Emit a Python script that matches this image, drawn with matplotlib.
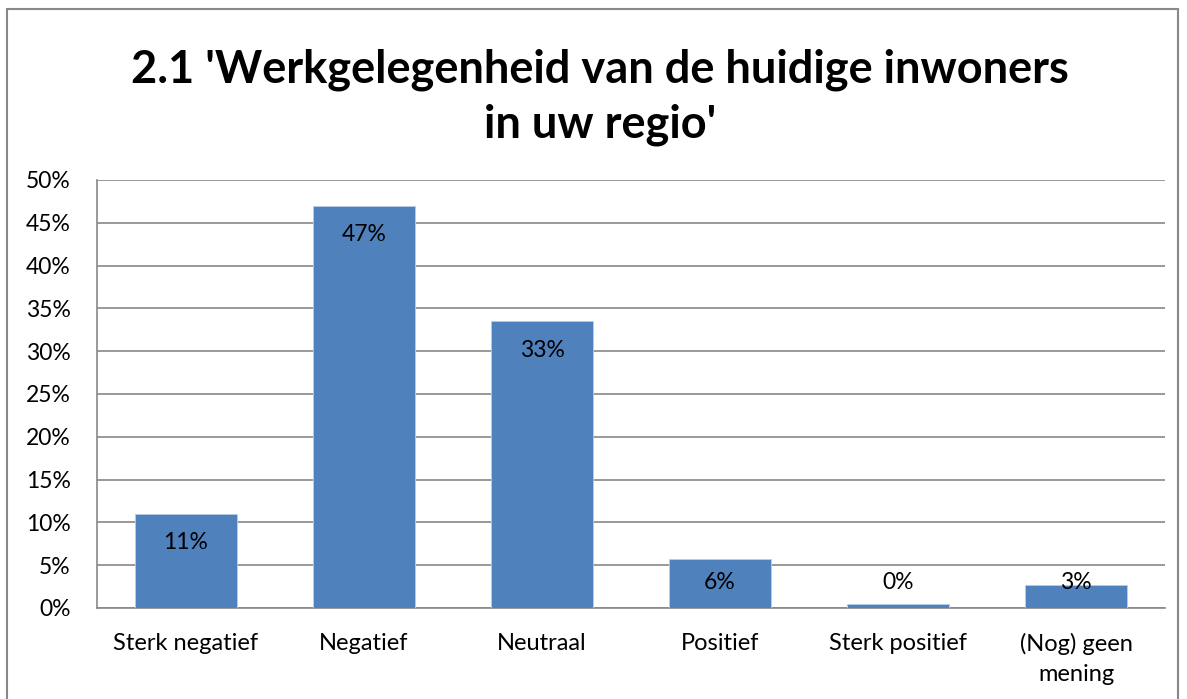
import matplotlib
matplotlib.use("Agg")
import matplotlib.pyplot as plt
from matplotlib.patches import Rectangle

categories = ["Sterk negatief", "Negatief", "Neutraal", "Positief", "Sterk positief", "(Nog) geen\nmening"]
values = [11.0, 47.0, 33.5, 5.7, 0.5, 2.7]
labels = ["11%", "47%", "33%", "6%", "0%", "3%"]
yticks = [0, 5, 10, 15, 20, 25, 30, 35, 40, 45, 50]
title = "2.1 'Werkgelegenheid van de huidige inwoners\nin uw regio'"

W, H = 1187, 699
fig = plt.figure(figsize=(W / 100, H / 100), dpi=100)
font = "Lato"
fs = 16.5

# outer chart border
fig.patches.append(Rectangle((7 / W, -0.05), (1178 - 7) / W, 1.05 - 9 / H,
                             transform=fig.transFigure, fill=False,
                             edgecolor="#888888", linewidth=1.5))

left, right, top, bottom = 97, 1165, 180, 608
ax = fig.add_axes([left / W, 1 - bottom / H, (right - left) / W, (bottom - top) / H])

x = range(len(categories))
ax.bar(x, values, width=0.57, color="#4f81bd", edgecolor="#b9cde5", linewidth=0.6, zorder=3)
ax.set_xlim(-0.5, len(categories) - 0.5)
ax.set_ylim(0, 50)
ax.set_yticks(yticks)
ax.set_yticklabels([f"{t}%" for t in yticks], fontsize=fs, family=font)
ax.set_xticks(list(x))
ax.set_xticklabels(categories, fontsize=17, family=font, linespacing=1.55, va="top")
ax.tick_params(axis="x", length=0, pad=18)
ax.tick_params(axis="y", length=0, pad=19)
ax.yaxis.grid(True, color="#888888", linewidth=1.2, zorder=0)
ax.set_axisbelow(True)
for s in ["top", "right"]:
    ax.spines[s].set_visible(False)
for s in ["left", "bottom"]:
    ax.spines[s].set_color("#888888")
    ax.spines[s].set_linewidth(1.2)

for xi, v, lab in zip(x, values, labels):
    ax.text(xi, max(v - 3.4, 3.0), lab, ha="center", va="center",
            fontsize=fs, family=font, color="black", zorder=4)

fig.text(600 / W, 1 - 97 / H, title, ha="center", va="center", fontsize=32.5,
         fontweight="bold", family=font, linespacing=1.36)

fig.savefig("out.png", dpi=100, facecolor="white")
